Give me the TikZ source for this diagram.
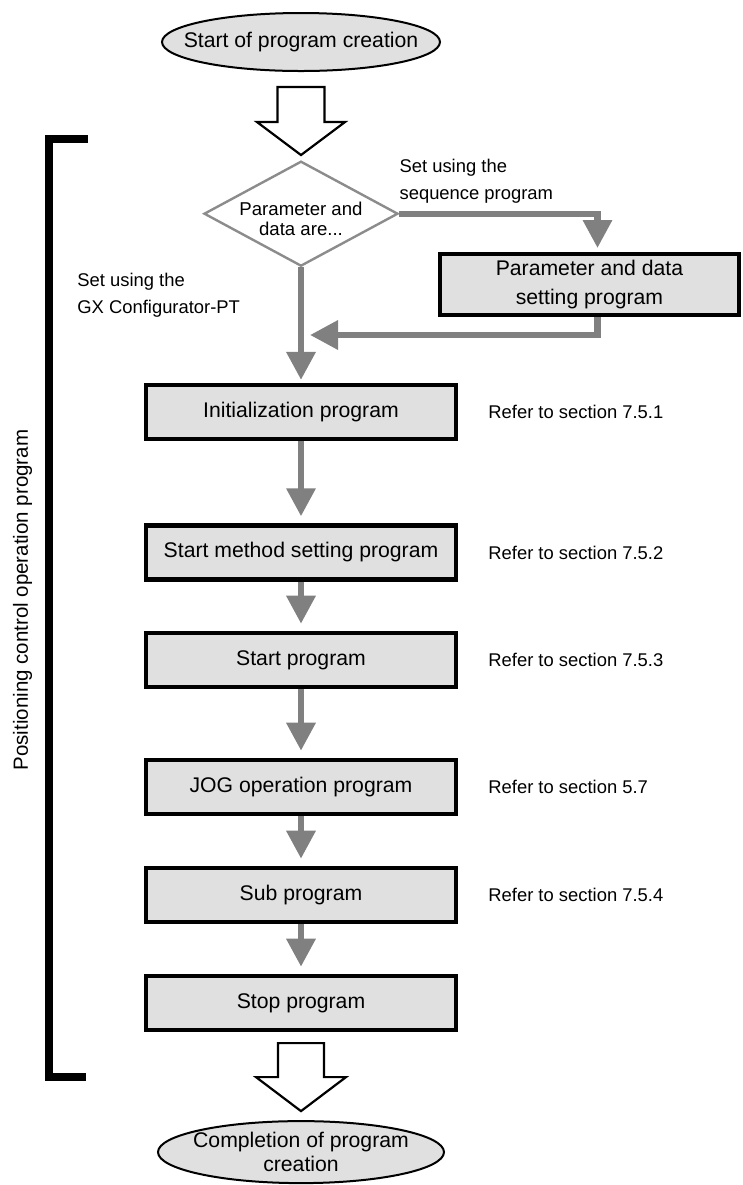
\documentclass[tikz,border=0pt]{standalone}
\usepackage{fontspec}
\setmainfont{Liberation Sans}
\usetikzlibrary{arrows.meta,positioning,shapes.geometric}
\definecolor{flowgray}{HTML}{808080}
\definecolor{boxfill}{HTML}{E0E0E0}
\definecolor{edgegray}{HTML}{8C8C8C}

\begin{document}
\begin{tikzpicture}[
  flow/.style={draw=flowgray,line width=3.2pt,line join=miter,-{Triangle[length=14pt,width=14pt]}},
  prog/.style={draw,line width=2.2pt,fill=boxfill,minimum width=154.8pt,minimum height=27pt,inner sep=0pt,
    font=\fontsize{10.6}{14.5}\selectfont,align=center},
  terminal/.style={ellipse,draw,line width=1pt,fill=boxfill,inner ysep=0pt,
    font=\fontsize{10.6}{12}\selectfont,align=center},
  decide/.style={diamond,draw=edgegray,line width=1.2pt,fill=white,minimum width=97pt,minimum height=52.5pt,inner sep=0pt},
  hollow/.style={draw,line width=1.1pt,fill=white,line join=miter},
  note/.style={inner sep=0pt,font=\fontsize{9.2}{13.5}\selectfont,align=left},
  bracket/.style={line width=4pt,line join=miter}
]
  \useasboundingbox (0,0) rectangle (371.5pt,-592.5pt);

  % start and the question
  \node[terminal,minimum width=139pt,minimum height=29pt,inner xsep=-9.5pt] (start) at (150.5pt,-21pt) {Start of program creation};
  \node[decide,below=44pt of start] (ask) {};
  \node[font=\fontsize{9.3}{9.8}\selectfont,align=center] (asktext) at ([yshift=-2.5pt]ask.center) {Parameter and\\data are...};
  \node[prog,minimum width=149.3pt,minimum height=30.3pt] (param) at (294.75pt,-142.25pt) {Parameter and data\\setting program};
  \node[note,anchor=south west] (seqnote) at ([yshift=5pt]ask.east) {Set using the\\sequence program};
  \node[note,anchor=west] (gxnote) at (38.5pt,-147.5pt) {Set using the\\GX Configurator-PT};
  \coordinate (merge) at (155pt,-167.5pt);

  % program column
  \node[prog,below=57.75pt of ask] (init) {Initialization program};
  \node[prog,below=41pt of init] (startm) {Start method setting program};
  \node[prog,below=24.5pt of startm] (startp) {Start program};
  \node[prog,below=34.3pt of startp] (jog) {JOG operation program};
  \node[prog,below=24.8pt of jog] (sub) {Sub program};
  \node[prog,below=24.8pt of sub] (stop) {Stop program};
  \node[terminal,below=44pt of stop,minimum width=143pt,minimum height=31pt,inner xsep=-3.5pt] (finish) {Completion of program\\creation};

  \node[note,right=15pt of init] (ref1) {Refer to section 7.5.1};
  \node[note,right=15pt of startm] (ref2) {Refer to section 7.5.2};
  \node[note,right=15pt of startp] (ref3) {Refer to section 7.5.3};
  \node[note,right=15pt of jog] (ref4) {Refer to section 5.7};
  \node[note,right=15pt of sub] (ref5) {Refer to section 7.5.4};

  % side bracket
  \node[rotate=90,font=\fontsize{10.25}{12}\selectfont] (side) at (11.25pt,-300pt) {Positioning control operation program};
  \draw[bracket] (44pt,-69.5pt) -| (24.5pt,-538.5pt) -- (43pt,-538.5pt);

  % hollow arrows
  \draw[hollow] ([yshift=-7.5pt]start.south) ++(-11.75pt,0) -- ++(23.5pt,0) -- ++(0,-17.5pt) -- ++(10.25pt,0)
    -- ++(-22pt,-16.5pt) -- ++(-22pt,16.5pt) -- ++(10.25pt,0) -- cycle;
  \draw[hollow] ([yshift=-5.5pt]stop.south) ++(-11.5pt,0) -- ++(23pt,0) -- ++(0,-17pt) -- ++(11pt,0)
    -- ++(-22.5pt,-17pt) -- ++(-22.5pt,17pt) -- ++(11pt,0) -- cycle;

  % gray flow lines
  \draw[flow,shorten >=2pt] (ask.east) -| ([xshift=4pt]param.north);
  \draw[flow] ([xshift=4pt]param.south) |- (merge);
  \draw[flow,shorten >=1.5pt] (ask.south) -- (init.north);
  \foreach \a/\b in {init/startm,startm/startp,startp/jog,jog/sub,sub/stop}
    \draw[flow,shorten >=3.5pt] (\a.south) -- (\b.north);
\end{tikzpicture}
\end{document}
